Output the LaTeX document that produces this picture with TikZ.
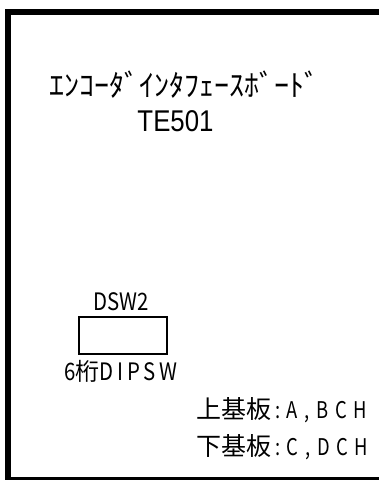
\documentclass[tikz,border=0pt]{standalone}
\usepackage{fontspec}
\usepackage{graphicx}
\newfontfamily\kanafont{Noto Sans CJK JP}
\newfontfamily\jpfont[FakeStretch=0.85]{Noto Sans CJK JP}
\newfontfamily\jpmid[FakeStretch=0.85,LetterSpace=16]{Noto Sans CJK JP}
\newfontfamily\jpwide[FakeStretch=0.8,LetterSpace=29]{Noto Sans CJK JP}
\newfontfamily\arialfont{Liberation Sans}
\tikzset{
  label text/.style={inner sep=0pt,anchor=base west},
  frame line/.style={line width=6pt,line cap=butt,color=black}
}
\begin{document}
\begin{tikzpicture}[x=1pt,y=-1pt,line join=miter]
	\useasboundingbox (0,0) rectangle (379,480);
	% board outline
	\draw[frame line] (379,11.5) -- (8,11.5) -- (8,480);
	\draw[frame line,line width=5pt] (5,479.5) -- (379,479.5);
	% title
	\node[label text,font=\kanafont\fontsize{30}{32}\selectfont] (title) at (49,96) {ｴﾝｺｰﾀﾞｲﾝﾀﾌｪｰｽﾎﾞｰﾄﾞ};
	\node[label text,anchor=base,font=\arialfont\fontsize{30}{32}\selectfont] (model) at (175.5,131.5) {\scalebox{0.86}[1]{TE501}};
	% dip switch
	\draw[line width=1.6pt] (79,317) rectangle (167,354);
	\coordinate (dsw) at (123,335.5);
	\node[label text,anchor=base,font=\jpfont\fontsize{24}{26}\selectfont] (dswname) at (121,310) {DSW2};
	\node[label text,font=\fontsize{24}{26}\selectfont] (dswtype) at (64,380) {\jpfont 6\kanafont 桁\jpmid DIPSW};
	% channel notes
	\node[label text,font=\fontsize{25}{27}\selectfont] (upper) at (196,418) {\kanafont 上基板\kern4pt\jpwide\fontsize{23}{25}\selectfont :A,BCH};
	\node[label text,font=\fontsize{25}{27}\selectfont] (lower) at (196,455.5) {\kanafont 下基板\kern4pt\jpwide\fontsize{23}{25}\selectfont :C,DCH};
\end{tikzpicture}
\end{document}
